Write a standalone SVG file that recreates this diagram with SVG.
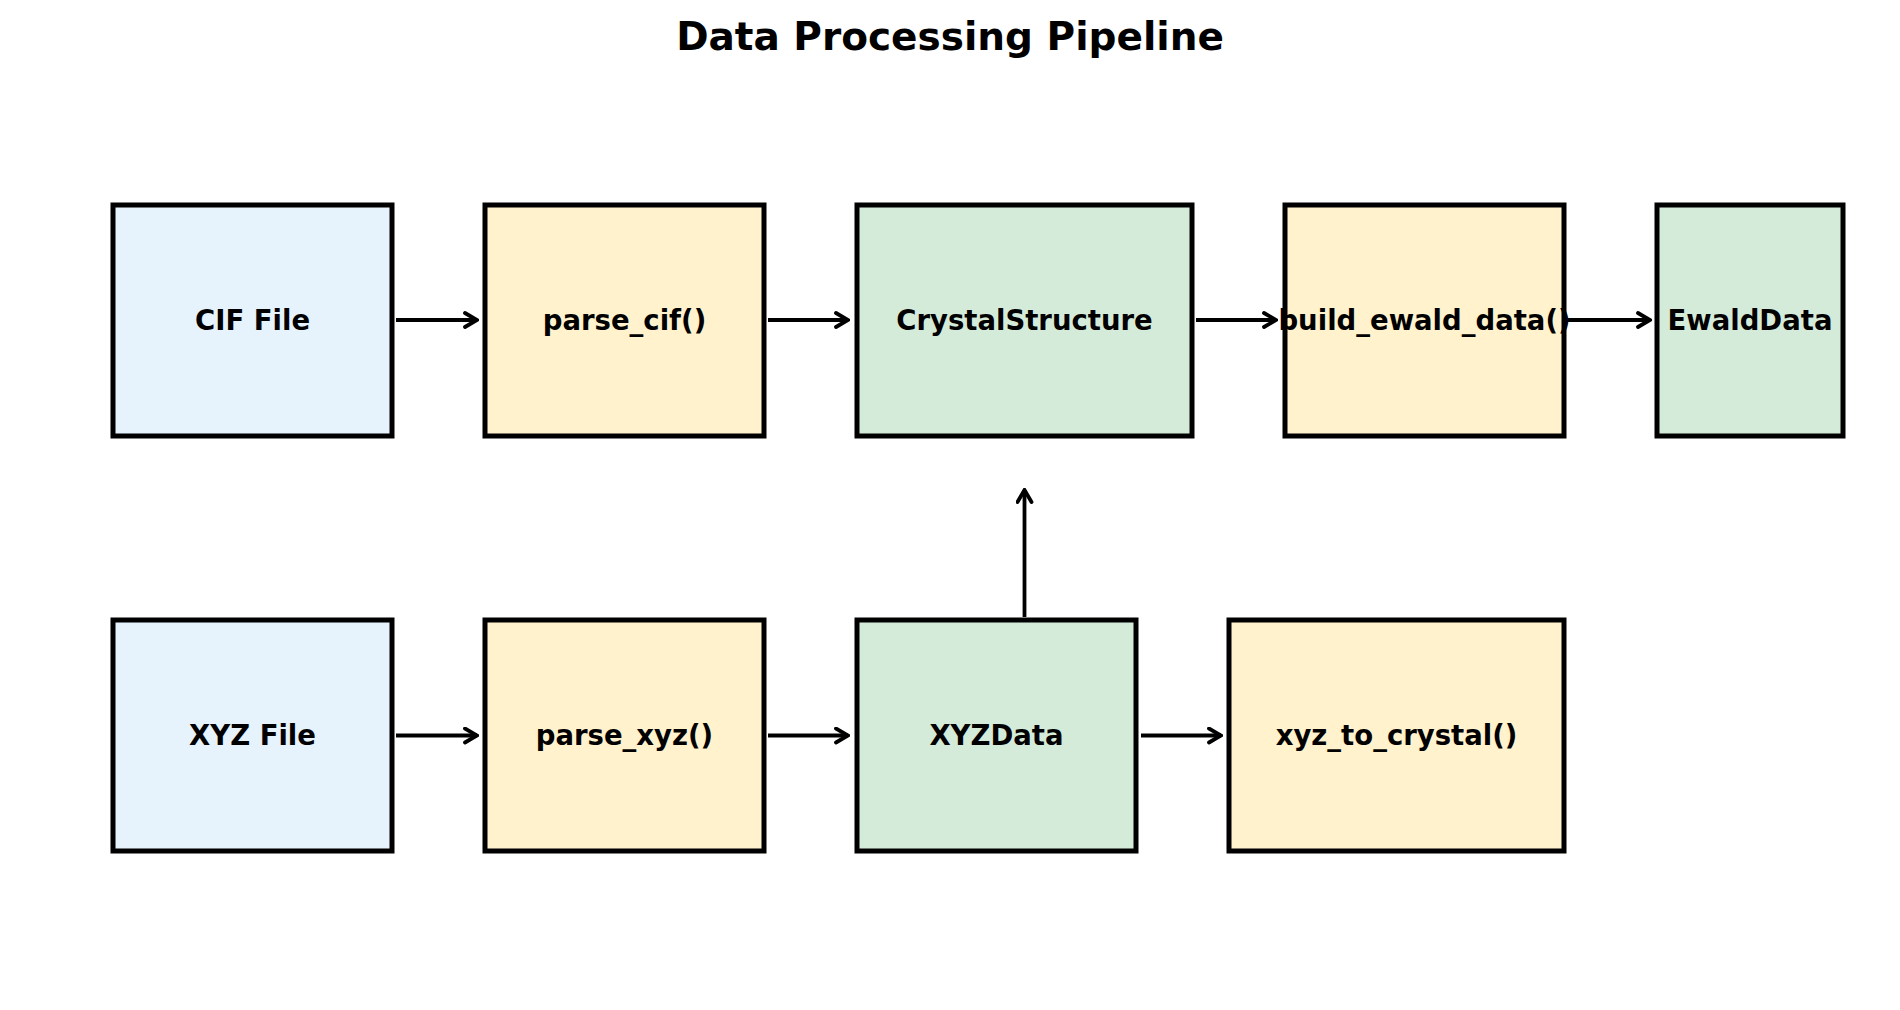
<svg xmlns="http://www.w3.org/2000/svg" width="1900" height="1010" viewBox="0 0 1900 1010">
<defs>
<style>
.box{stroke:#000;stroke-width:5}
.blue{fill:#e6f2fc}
.yellow{fill:#fff2cd}
.green{fill:#d5ebda}
.lbl{font-family:"DejaVu Sans",sans-serif;font-weight:bold;font-size:27.5px;text-anchor:middle;fill:#000}
.title{font-family:"DejaVu Sans",sans-serif;font-weight:bold;font-size:39px;text-anchor:middle;fill:#000}
.conn{stroke:#000;stroke-width:3.8;fill:none;marker-end:url(#ah)}
</style>
<marker id="ah" viewBox="-14 -9 16 18" refX="0" refY="0" markerWidth="16" markerHeight="18" markerUnits="userSpaceOnUse" orient="auto">
<path d="M-12,-7 L0,0 L-12,7" fill="none" stroke="#000" stroke-width="3.8" stroke-linecap="round" stroke-linejoin="miter"/>
</marker>
</defs>
<rect width="1900" height="1010" fill="#fff"/>
<text class="title" x="950" y="50">Data Processing Pipeline</text>
<g id="connectors">
<line class="conn" x1="396" y1="320" x2="477" y2="320"/>
<line class="conn" x1="768" y1="320" x2="848" y2="320"/>
<line class="conn" x1="1196" y1="320" x2="1276" y2="320"/>
<line class="conn" x1="1568" y1="320" x2="1650" y2="320"/>
<line class="conn" x1="396" y1="735.5" x2="477" y2="735.5"/>
<line class="conn" x1="768" y1="735.5" x2="848" y2="735.5"/>
<line class="conn" x1="1141" y1="735.5" x2="1221" y2="735.5"/>
<line class="conn" x1="1024.5" y1="617" x2="1024.5" y2="490"/>
</g>
<g id="cif_file"><rect class="box blue" x="113" y="205" width="279" height="231"/><text class="lbl" x="252.5" y="330">CIF File</text></g>
<g id="parse_cif"><rect class="box yellow" x="485" y="205" width="279" height="231"/><text class="lbl" x="624.5" y="330">parse_cif()</text></g>
<g id="crystal_structure"><rect class="box green" x="857" y="205" width="335" height="231"/><text class="lbl" x="1024.5" y="330">CrystalStructure</text></g>
<g id="build_ewald_data"><rect class="box yellow" x="1285" y="205" width="279" height="231"/><text class="lbl" x="1424.5" y="330">build_ewald_data()</text></g>
<g id="ewald_data"><rect class="box green" x="1657" y="205" width="186" height="231"/><text class="lbl" x="1750" y="330">EwaldData</text></g>
<g id="xyz_file"><rect class="box blue" x="113" y="620" width="279" height="231"/><text class="lbl" x="252.5" y="745">XYZ File</text></g>
<g id="parse_xyz"><rect class="box yellow" x="485" y="620" width="279" height="231"/><text class="lbl" x="624.5" y="745">parse_xyz()</text></g>
<g id="xyz_data"><rect class="box green" x="857" y="620" width="279" height="231"/><text class="lbl" x="996.5" y="745">XYZData</text></g>
<g id="xyz_to_crystal"><rect class="box yellow" x="1229" y="620" width="335" height="231"/><text class="lbl" x="1396.5" y="745">xyz_to_crystal()</text></g>
</svg>
